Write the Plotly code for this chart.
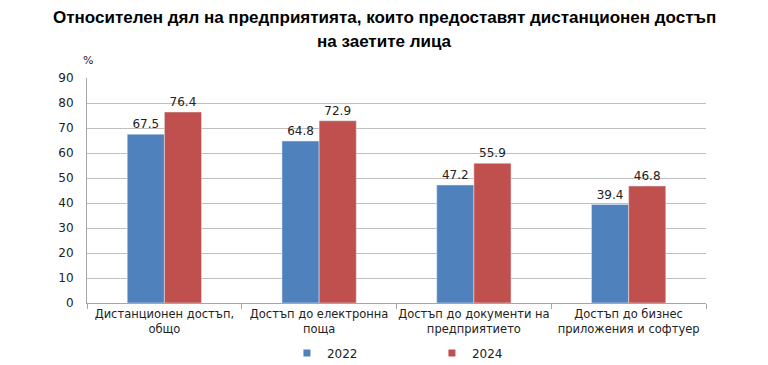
import plotly.graph_objects as go

categories = ["Дистанционен достъп,<br>общо", "Достъп до електронна<br>поща",
              "Достъп до документи на<br>предприятието", "Достъп до бизнес<br>приложения и софтуер"]
values_2022 = [67.5, 64.8, 47.2, 39.4]
values_2024 = [76.4, 72.9, 55.9, 46.8]
y_ticks = list(range(0, 91, 10))
title_lines = ["Относителен дял на предприятията, които предоставят дистанционен достъп",
               "на заетите лица"]

font_main = "Verdana, DejaVu Sans, sans-serif"
title_font = "Liberation Sans Narrow, Arial Narrow, Liberation Sans, Arial"
colors = {"2022": "#4F81BD", "2024": "#C0504D"}

fig = go.Figure()
for name, vals in [("2022", values_2022), ("2024", values_2024)]:
    fig.add_trace(go.Bar(x=categories, y=vals, name=name, marker_color=colors[name],
                         text=[f"{v:.1f}" for v in vals], textposition="outside",
                         textfont=dict(family=font_main, size=12, color="#222"),
                         cliponaxis=False, showlegend=False))
for name in ["2022", "2024"]:
    fig.add_trace(go.Scatter(x=[None], y=[None], mode="markers", name=name,
                             marker=dict(symbol="square", size=7, color=colors[name])))

W, H = 760, 357
L, R, T, B = 79, 62, 70, 62
PH = H - T - B
PW = W - L - R

fig.update_layout(
    width=W, height=H,
    paper_bgcolor="white", plot_bgcolor="white",
    margin=dict(l=L, r=R, t=T, b=B, autoexpand=False),
    barmode="group", bargap=0.52, bargroupgap=0,
    font=dict(family=font_main, size=12, color="#222"),
    showlegend=True,
    legend=dict(orientation="h", x=0.323, xanchor="left", y=-0.222, yanchor="middle",
                font=dict(family=font_main, size=12, color="#222"),
                entrywidth=100, itemwidth=30, traceorder="normal", tracegroupgap=0),
    xaxis=dict(showline=True, linecolor="#A6A6A6", ticks="outside", tickson="boundaries",
               ticklen=5, tickcolor="#A6A6A6", automargin=False, tickangle=0,
               tickfont=dict(family=font_main, size=11.5, color="#222")),
    yaxis=dict(range=[0, 90], tickvals=y_ticks, showline=True, linecolor="#A6A6A6",
               gridcolor="#BFBFBF", gridwidth=1, zeroline=False, ticks="", automargin=False,
               ticklabelstandoff=10,
               tickfont=dict(family=font_main, size=12, color="#222")),
    annotations=[
        dict(text="%", xref="paper", yref="paper", x=-0.01, y=1.042, xanchor="left", yanchor="bottom",
             showarrow=False, font=dict(family=font_main, size=11, color="#222")),
        dict(text="<b>" + title_lines[0] + "</b>", xref="paper", yref="paper",
             x=(376 - L) / PW, y=(T + PH - 9) / PH, xanchor="center", yanchor="middle",
             showarrow=False, font=dict(family=title_font, size=17, color="#000")),
        dict(text="<b>" + title_lines[1] + "</b>", xref="paper", yref="paper",
             x=(376 - L) / PW, y=(T + PH - 33) / PH, xanchor="center", yanchor="middle",
             showarrow=False, font=dict(family=title_font, size=17, color="#000")),
    ],
)

fig.write_html("out.html")
